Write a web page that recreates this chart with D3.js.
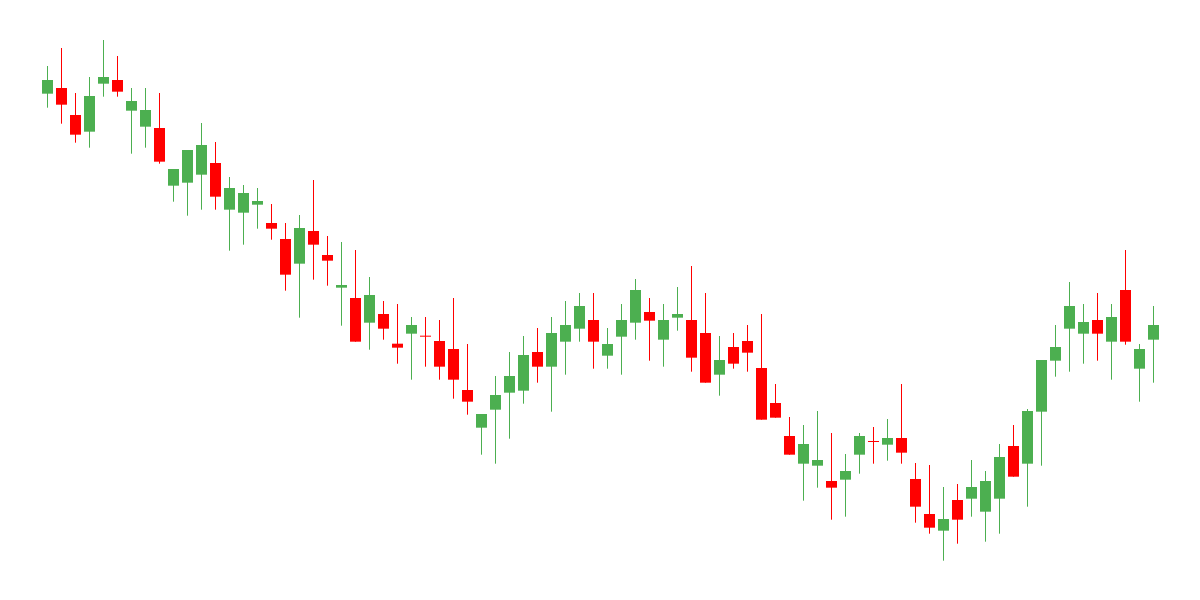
<!DOCTYPE html>
<html>
<head>
<meta charset="utf-8">
<script src="https://cdn.jsdelivr.net/npm/d3@7"></script>
<style>
  html, body { margin: 0; padding: 0; background: #ffffff; }
  svg { display: block; }
</style>
</head>
<body>
<svg id="chart" width="1200" height="600"></svg>
<script>
// Series values (open, high, low, close)
const open = [126.58,128,121.25,117.08,129.08,130,122.33,118.33,118,103.58,
  104.33,106.33,109.25,97.58,96.83,98.83,94.25,90.25,84.08,92.25,
  86.25,78.08,75.5,69.33,71.5,64.08,66.58,66.08,64.75,62.75,
  52.5,43.08,47.58,51.83,52.33,62,58.33,64.58,67.83,70,
  61.08,65.83,69.33,72,65.08,70.58,70,66.75,56.33,63.25,
  64.75,58,49.25,41,34.08,33.58,29.75,30.08,36.33,39.75,
  38.83,40.5,30.25,21.5,17.33,25,25.33,22.08,25.33,38.5,
  34.08,47.08,59.83,67.83,66.58,70,64.58,77.5,57.83,65.08];
const high = [133.5,138,126.75,130.75,140,136,128,128,126.75,107.75,
  112.5,119.25,114.5,105.75,103.75,103,99,94.25,96.25,105,
  91,89.5,87.5,80.75,74.75,74,70.75,70.75,70,75.5,
  64,46.5,56,62,66,68,70.75,74.75,76.75,76.75,
  68,74,80.25,75.5,74,78.25,83.5,76.75,66,66.75,
  68.75,71.5,54,45.75,43.75,47.25,41.75,36.5,41.75,43.25,
  45.25,54,34.25,33.75,28.25,29,35,32.25,39,43.75,
  47.75,60,68.75,79.5,74,76.75,74,87.5,64,73.5];
const low = [123.08,119.08,114.33,113.08,125.83,125.83,111.58,113.08,109.08,99.58,
  96.08,97.58,97.58,87.33,88.83,92.83,90.08,77.33,70.58,80.08,
  78.58,68.58,64.58,62.58,65.08,59.08,55.08,58.33,55.08,50.33,
  46.33,36.33,34.08,40.33,49.08,54.33,47.08,56.33,64.58,57.83,
  57.83,56.33,65.08,59.83,58.33,67.33,57.08,54.33,51.08,57.83,
  57.08,45.08,45.58,36.33,24.83,28.08,20.08,20.83,31.58,34.08,
  34.83,34.08,19.33,16.58,9.83,14.08,20.83,14.58,16.58,30.83,
  23.33,33.58,55.83,57.08,59.08,59.83,55.08,63.83,49.58,54.33];
const close = [130,123.83,116.33,126,130.75,127.08,124.75,122.5,109.58,107.75,
  112.5,113.75,100.83,103,101.75,99.75,92.83,81.33,93,88.83,
  84.83,78.75,64.58,76.25,67.83,63.08,68.75,65.88,58.33,55.08,
  49.58,46.5,51.25,56,61.25,58.33,66.75,68.75,73.5,64.58,
  64,70,77.5,69.83,70,71.5,60.58,54.33,60,59.08,
  61.83,45.08,45.58,36.33,39,35,28.08,32.25,41,39.58,
  40.5,36.83,23.33,18.08,20.25,20.08,28.25,29.75,35.75,30.83,
  47.25,60,63.25,73.5,69.5,66.58,70.75,64.58,62.75,68.75];
// Categories: one trading session per candle
const sessions = d3.range(1, open.length + 1).map(i => "S" + i);

const data = sessions.map((s, i) => ({ s, o: open[i], h: high[i], l: low[i], c: close[i] }));

const svg = d3.select("#chart");
const x = d3.scalePoint().domain(sessions).range([47.5, 1153.5]);
const y = d3.scaleLinear().domain([0, 150]).range([600, 0]);

const UP = "#4caf50", DOWN = "#ff0000";
const bodyW = 11;

const g = svg.append("g");
const candle = g.selectAll("g.candle").data(data).join("g").attr("class", "candle");

candle.append("rect")
  .attr("x", d => x(d.s) - 0.5)
  .attr("width", 1)
  .attr("y", d => y(d.h))
  .attr("height", d => y(d.l) - y(d.h))
  .attr("fill", d => d.c >= d.o ? UP : DOWN);

candle.append("rect")
  .attr("x", d => x(d.s) - bodyW / 2)
  .attr("width", bodyW)
  .attr("y", d => y(Math.max(d.o, d.c)))
  .attr("height", d => Math.max(1, Math.abs(y(d.o) - y(d.c))))
  .attr("fill", d => d.c >= d.o ? UP : DOWN);
</script>
</body>
</html>
